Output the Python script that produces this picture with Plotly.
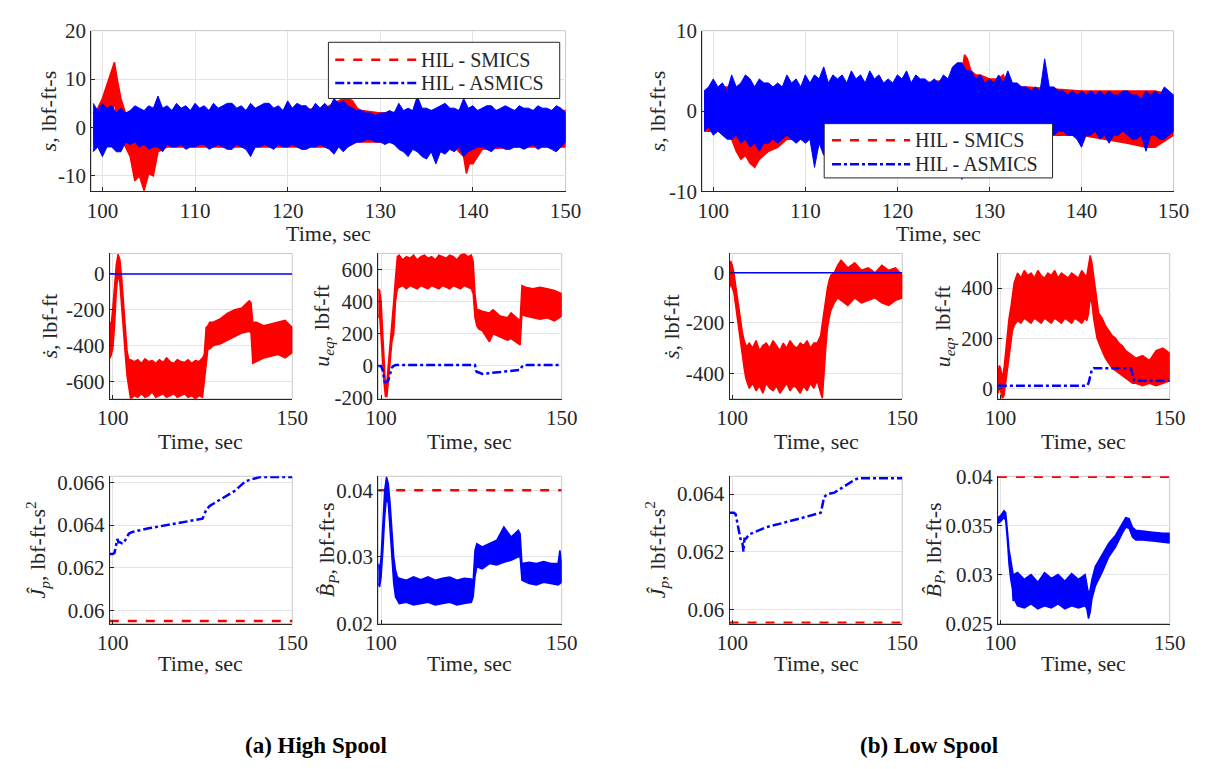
import plotly.graph_objects as go

W, H = 1205, 769
FONT = "'Liberation Serif', 'Times New Roman', Times, serif"
RED = "#ff0000"
BLUE = "#0000ff"
DARK = "#262626"
GRID = "#e3e3e3"

# ---------------- data ----------------
# (a) High Spool: sliding variable s  (noise envelopes)
hs_s_asmics_t = [99, 99.5, 100, 100.5, 101, 101.5, 102, 102.5, 103, 103.5, 104, 104.5, 105, 105.5, 106, 106.5,
                 107, 107.5, 108, 108.5, 109, 109.5, 110, 110.5, 111, 111.5, 112, 112.5, 113, 113.5, 114, 114.5,
                 115, 115.5, 116, 116.5, 117, 117.5, 118, 118.5, 119, 119.5, 120, 120.5, 121, 121.5, 122, 122.5,
                 123, 123.5, 124, 124.5, 125, 125.5, 126, 126.5, 127, 127.5, 128, 128.5, 129, 129.5, 130, 130.5,
                 131, 131.5, 132, 132.5, 133, 133.5, 134, 134.5, 135, 135.5, 136, 136.5, 137, 137.5, 138, 138.5,
                 139, 139.5, 140, 140.5, 141, 141.5, 142, 142.5, 143, 143.5, 144, 144.5, 145, 145.5, 146, 146.5,
                 147, 147.5, 148, 148.5, 149, 149.5, 150]
hs_s_asmics_up = [5, 3.5, 5, 4, 4.5, 3, 4, 3, 3.5, 4.5, 4, 3.5, 4.5, 4, 6.5, 4, 4.5, 3.5, 5, 4,
                  4.5, 3.5, 5, 4, 4.5, 3.5, 5, 4, 4.5, 5, 5, 4, 4.5, 3.5, 5, 4, 4.5, 5, 5, 4,
                  4.5, 3.5, 5.5, 4, 5, 4.5, 4.5, 3.5, 5, 4, 5, 4, 6, 5, 5.5, 4.5, 4, 3.5, 3.5, 3,
                  3, 2.5, 3, 3, 3.5, 3, 5, 3.5, 4, 3.5, 6.5, 4, 4, 3.5, 4, 4.5, 5, 4, 4, 3.5,
                  6, 4, 4.5, 3.5, 4, 4.5, 4.5, 3.5, 4, 4.5, 4, 3.5, 4.5, 4, 4, 3.5, 4.5, 4, 4, 3.5,
                  4.5, 4, 3]
hs_s_asmics_lo = [-5, -4, -6, -4, -4, -5, -5, -3, -3.5, -3, -4, -3.5, -4.5, -4, -4, -5, -3.5, -4, -4, -3.5,
                  -4.5, -4, -4, -3.5, -3.5, -4.5, -4, -3.5, -4, -4.5, -4.5, -3.5, -4, -4.5, -6, -4, -4, -3.5, -4,
                  -4.5, -3.5, -4, -4, -3.5, -4, -4.5, -4.5, -4, -4, -3.5, -4, -4.5, -5.5, -4, -5, -4, -3.5, -3,
                  -3, -2.5, -2.5, -3, -3, -3.5, -3, -3.5, -4.5, -5, -6, -4.5, -5, -6, -6.5, -5, -7.5, -5, -5.5,
                  -4.5, -5, -4, -6, -5, -4.5, -4, -4, -4.5, -5, -4, -4, -4.5, -4.5, -4, -4, -4.5, -4, -3.5, -4.5,
                  -4, -4, -4.5, -5, -4, -3]
hs_s_smics_t = [99, 99.5, 100, 100.5, 101, 101.3, 101.6, 102, 102.5, 103, 103.5, 104, 104.5, 105, 105.5, 106, 107,
                110, 115, 120, 124, 125, 126, 126.5, 127, 127.5, 128, 130, 135, 138, 139, 139.3, 139.6, 140, 141,
                145, 150]
hs_s_smics_up = [3, 4, 6, 9, 12, 13.5, 10, 6, 3, 3, 3, 3, 3, 3, 3, 3, 3.5,
                 3.5, 3.5, 3.5, 4, 5, 6, 6, 5.5, 4, 3.5, 3, 3.5, 3.5, 3.5, 3.5, 3.5, 3.5, 3.5,
                 3.5, 3.5]
hs_s_smics_lo = [-3, -3, -2, 1, 3, 5, 2, -2, -4, -6, -11, -10, -13, -9.5, -10, -5, -4,
                 -4, -4, -4, -4, -4, -3.5, -3, -3, -3, -3, -3, -3.5, -4, -6, -9.5, -7.5, -7.5, -4.5,
                 -4, -4]

# (b) Low Spool: sliding variable s
ls_s_asmics_t = hs_s_asmics_t
ls_s_asmics_up = [2.5, 3, 4, 3, 3.5, 2.5, 4.5, 3, 3.5, 4.5, 4, 3, 4, 3.5, 3.5, 3, 3.5, 3, 4.5, 3.5,
                  4, 3, 4.5, 3.5, 4.5, 4, 5.5, 3.5, 4.5, 4, 4.5, 3.5, 5, 4, 4.5, 3.5, 5, 4, 4.5, 3.5,
                  4, 3.5, 4.5, 4, 5, 3.5, 4.5, 4, 4, 3.5, 4, 3.5, 4.5, 4, 5.5, 6, 6, 5, 5, 4,
                  4.5, 3.5, 4, 3.5, 4.5, 3.5, 5, 3.5, 3.5, 3, 3, 2.5, 3, 2.5, 6.5, 3, 3, 2.5, 2.5, 2,
                  2.5, 2, 2.5, 2, 2.5, 2, 2.5, 2, 2.5, 2, 2, 2.5, 2.5, 2, 2, 1.5, 2.5, 2, 2.5, 2,
                  3, 2.5, 2]
ls_s_asmics_lo = [-2.5, -2, -3, -2.5, -3, -3.5, -3.5, -3, -4, -3.5, -4.5, -4, -5, -4, -4, -3.5, -4, -3.5, -3,
                  -3.5, -4, -3.5, -4, -3.5, -7, -4, -5.5, -4, -4.5, -4, -4, -3.5, -4.5, -4, -4, -3.5, -4, -3.5,
                  -4, -3.5, -4, -3.5, -3.5, -3, -4, -3.5, -4, -3.5, -3.5, -3, -3.5, -3, -4, -3, -3, -3, -8.5, -3,
                  -3.5, -3, -3, -2.5, -3, -2.5, -3, -2.5, -3, -2.5, -3, -3, -3.5, -3, -2.5, -3, -3, -2.5, -3, -2.5,
                  -2.5, -3, -3, -3.5, -4.5, -3, -3, -2.5, -3.5, -3, -4, -3, -3, -2.5, -3, -3.5, -3.5, -3, -5, -3,
                  -3, -3.5, -3.5, -3, -2.5]
ls_s_smics_t = [99, 100, 101, 102, 102.5, 103, 103.5, 104, 104.5, 105, 106, 107, 108, 110, 120, 126, 127, 127.3,
                127.6, 128, 128.5, 129, 130, 131, 131.5, 132, 134, 140, 145, 147, 148, 150]
ls_s_smics_up = [2, 2.5, 3, 3, 3, 3, 3, 3, 3, 3, 3, 3, 3, 3, 3, 4, 5, 7,
                 6.5, 5, 4.5, 4.5, 4, 4, 4.5, 3, 3, 2.5, 2.5, 2.5, 2.5, 2]
ls_s_smics_lo = [-2.5, -2.5, -2.5, -3.5, -5, -6, -5.5, -6.5, -7, -6, -5, -4.5, -3.5, -3.5, -3.5, -3, -3, -3,
                 -3, -3, -3, -3, -3, -3, -3, -3, -3, -3, -4, -4.5, -4.5, -3]

# (a) s-dot
hs_sd_t = [99.2, 99.5, 100, 100.5, 101, 101.5, 102, 102.5, 103, 103.5, 104, 104.5, 105, 106, 107, 108, 109, 110,
           111, 112, 113, 114, 115, 116, 117, 118, 119, 120, 121, 122, 123, 124, 125, 125.5, 126, 126.5, 127, 128,
           130, 132, 134, 136, 138, 138.5, 139, 140, 142, 144, 146, 148, 150]
hs_sd_up = [-270, -300, -200, -50, 50, 110, 80, -20, -150, -300, -430, -480, -480, -490, -480, -500, -475, -490,
            -485, -500, -480, -495, -470, -490, -500, -480, -490, -495, -480, -500, -485, -490, -470, -450, -300,
            -290, -270, -270, -250, -220, -200, -190, -150, -160, -270, -270, -290, -280, -270, -260, -300]
hs_sd_lo = [-470, -460, -420, -300, -100, 0, -50, -150, -300, -450, -570, -620, -700, -680, -690, -670, -690, -680,
            -660, -690, -680, -670, -690, -680, -670, -690, -680, -670, -690, -680, -700, -680, -690, -600, -520,
            -420, -420, -400, -390, -370, -350, -330, -320, -330, -500, -490, -470, -460, -450, -470, -440]
hs_sd_asmics_t = [99.2, 150]
hs_sd_asmics = [0, 0]

# (a) u_eq
hs_ueq_t = [99.2, 99.6, 100, 100.4, 100.8, 101.2, 101.6, 102, 102.5, 103, 103.5, 104, 104.5, 105, 106, 107, 108,
            109, 110, 111, 112, 113, 114, 115, 116, 117, 118, 119, 120, 121, 122, 123, 124, 125, 125.5, 126, 126.5,
            127, 128, 130, 131, 133, 135, 136, 138.5, 139, 140, 142, 144, 146, 148, 150]
hs_ueq_up = [480, 470, 400, 250, 100, -120, -100, 0, 100, 250, 400, 550, 680, 690, 660, 680, 670, 690,
             660, 680, 690, 670, 680, 660, 690, 680, 670, 690, 680, 660, 690, 700, 680, 690, 650, 450, 350,
             350, 340, 330, 350, 310, 300, 330, 280, 500, 490, 480, 490, 480, 470, 450]
hs_ueq_lo = [300, 320, 200, 50, -100, -190, -190, -100, 0, 150, 200, 400, 480, 490, 500, 480, 500, 490,
             480, 500, 490, 480, 500, 490, 480, 500, 490, 480, 500, 490, 480, 500, 490, 480, 450, 300, 250,
             230, 220, 150, 200, 180, 160, 170, 130, 320, 310, 300, 290, 300, 280, 310]
hs_ueq_asmics_t = [99.2, 100, 100.5, 101, 101.5, 102, 102.5, 103, 103.5, 104, 126, 126.3, 126.6, 127, 128, 130,
                   135, 138.5, 139, 139.5, 150]
hs_ueq_asmics = [0, 0, -30, -100, -100, -90, -50, -10, 0, 5, 5, -30, -40, -40, -50, -45,
                 -35, -25, -5, 5, 5]

# (b) s-dot
ls_sd_t = [99.2, 99.6, 100, 100.5, 101, 101.5, 102, 102.5, 103, 103.5, 104, 104.5, 105, 106, 107, 108, 109, 110,
           111, 112, 113, 114, 115, 116, 117, 118, 119, 120, 121, 122, 123, 124, 125, 126, 126.5, 127, 127.5, 128,
           128.5, 129, 130, 131, 132, 134, 136, 138, 140, 142, 144, 146, 148, 150]
ls_sd_up = [40, 45, 30, 0, -50, -100, -150, -200, -240, -270, -290, -290, -280, -300, -270, -310, -290, -280,
            -300, -270, -290, -310, -280, -300, -270, -290, -300, -280, -290, -270, -300, -280, -280, -250, -200,
            -150, -90, -60, -30, -10, 0, 30, 50, 20, 40, 10, 20, 0, 30, 10, 20, -10]
ls_sd_lo = [-60, -40, -60, -80, -120, -180, -230, -290, -330, -380, -420, -440, -460, -440, -470, -450, -480,
            -440, -460, -470, -450, -480, -460, -440, -470, -450, -460, -480, -450, -470, -440, -460, -430, -480,
            -500, -400, -300, -220, -180, -150, -120, -100, -110, -130, -100, -120, -110, -100, -120, -130, -110,
            -100]
ls_sd_asmics_t = [99.2, 150]
ls_sd_asmics = [0, 0]

# (b) u_eq
ls_ueq_t = [99.2, 99.6, 100, 100.5, 101, 101.5, 102, 102.5, 103, 103.5, 104, 104.5, 105, 106, 107, 108, 109, 110,
            111, 112, 113, 114, 115, 116, 117, 118, 119, 120, 121, 122, 123, 124, 125, 125.5, 126, 126.5, 127,
            127.5, 128, 128.5, 129, 130, 131, 132, 133, 134, 135, 136, 137, 138, 139, 140, 142, 144, 146, 148, 150]
ls_ueq_up = [60, 90, 80, 40, 80, 150, 220, 280, 320, 380, 420, 440, 460, 440, 470, 450, 460, 440, 470, 450,
             440, 460, 450, 470, 440, 460, 450, 440, 460, 450, 440, 470, 450, 450, 500, 530, 500, 450, 400, 350,
             300, 280, 250, 230, 210, 200, 180, 170, 150, 140, 130, 120, 130, 110, 150, 160, 140]
ls_ueq_lo = [-20, 0, -10, -40, -30, 20, 60, 120, 180, 230, 250, 260, 270, 260, 280, 270, 260, 280, 270, 260,
             280, 270, 260, 280, 270, 260, 280, 270, 260, 280, 270, 260, 280, 270, 300, 360, 340, 280, 240, 200,
             180, 150, 120, 100, 80, 70, 60, 50, 40, 30, 20, 20, 10, 20, 10, 20, 30]
ls_ueq_asmics_t = [99.2, 125.5, 126, 126.5, 127, 127.5, 138.5, 139, 139.5, 150]
ls_ueq_asmics = [10, 10, 20, 50, 75, 80, 80, 55, 30, 30]

# (a) J_p estimate
hs_jp_t = [99.2, 100, 100.5, 101, 101.3, 101.6, 102, 102.5, 103, 103.5, 104, 104.5, 105, 106, 110, 115, 120, 124.5,
           125, 126, 127, 128, 130, 132, 134, 136, 137, 138, 139, 140, 141, 150]
hs_jp = [0.06265, 0.06265, 0.0627, 0.0631, 0.06335, 0.0632, 0.0632, 0.06315, 0.06315, 0.0633, 0.06345, 0.0636,
         0.06365, 0.0637, 0.06385, 0.064, 0.06415, 0.06425, 0.0643, 0.0647, 0.0649, 0.065, 0.0652, 0.0654, 0.0656,
         0.0659, 0.06605, 0.0661, 0.06615, 0.0662, 0.06625, 0.06625]
hs_jp_smics_t = [99.2, 150]
hs_jp_smics = [0.05952, 0.05952]

# (a) B_P estimate
hs_bp_t = [99.2, 99.6, 100, 100.5, 101, 101.5, 102, 102.5, 103, 103.5, 104, 104.5, 105, 107, 109, 111, 113, 115,
           117, 119, 121, 123, 125, 125.5, 126, 126.5, 128, 130, 132, 134, 136, 138, 138.5, 139, 141, 143, 145,
           147, 149, 149.5, 150]
hs_bp_up = [0.029, 0.028, 0.030, 0.036, 0.040, 0.042, 0.041, 0.038, 0.034, 0.030, 0.028, 0.027, 0.0268, 0.0265,
            0.027, 0.0266, 0.027, 0.0265, 0.0268, 0.027, 0.0265, 0.0268, 0.0267, 0.0265, 0.031, 0.032, 0.0315,
            0.032, 0.0325, 0.0345, 0.033, 0.034, 0.0335, 0.029, 0.0292, 0.029, 0.0293, 0.029, 0.029, 0.031, 0.029]
hs_bp_lo = [0.026, 0.0255, 0.027, 0.031, 0.036, 0.039, 0.038, 0.034, 0.030, 0.026, 0.024, 0.0235, 0.023, 0.0232,
            0.0228, 0.023, 0.0232, 0.0228, 0.023, 0.0232, 0.0228, 0.023, 0.0232, 0.024, 0.027, 0.0285, 0.0282,
            0.029, 0.0288, 0.0292, 0.0295, 0.030, 0.030, 0.0265, 0.026, 0.0258, 0.0262, 0.026, 0.0258, 0.026, 0.0262]
hs_bp_smics_t = [99.2, 150]
hs_bp_smics = [0.04, 0.04]

# (b) J_p estimate
ls_jp_t = [99.2, 100, 100.5, 101, 101.5, 102, 102.5, 103, 103.3, 103.6, 104, 105, 107, 110, 115, 120, 125, 126,
           126.5, 127, 128, 130, 132, 134, 135, 136, 137, 150]
ls_jp = [0.06335, 0.06335, 0.06335, 0.0633, 0.0630, 0.0627, 0.0624, 0.0623, 0.0620, 0.06245, 0.06245, 0.0626,
         0.0627, 0.06285, 0.0630, 0.06315, 0.0633, 0.06335, 0.0636, 0.0639, 0.0640, 0.06405, 0.0642, 0.06435,
         0.06445, 0.0645, 0.06455, 0.06455]
ls_jp_smics_t = [99.2, 150]
ls_jp_smics = [0.05953, 0.05953]

# (b) B_P estimate
ls_bp_t = [99.2, 100, 101, 101.5, 102, 102.5, 103, 103.5, 103.7, 104, 105, 107, 109, 111, 113, 115, 117, 119, 121,
           123, 125, 125.5, 126, 126.5, 127, 128, 130, 132, 134, 136, 137, 138, 139, 140, 142, 145, 148, 150]
ls_bp_up = [0.0358, 0.0360, 0.0365, 0.0363, 0.0345, 0.0325, 0.0315, 0.0305, 0.0300, 0.0300, 0.0302, 0.0295,
            0.0300, 0.0292, 0.0302, 0.0296, 0.0300, 0.0293, 0.0301, 0.0295, 0.0300, 0.0290, 0.0280, 0.0285,
            0.0295, 0.0308, 0.0320, 0.0332, 0.0340, 0.0352, 0.0358, 0.0357, 0.0348, 0.0345, 0.0344, 0.0343,
            0.0342, 0.0342]
ls_bp_lo = [0.0352, 0.0354, 0.0358, 0.0355, 0.0335, 0.0310, 0.0295, 0.0285, 0.0273, 0.0275, 0.0268, 0.0266,
            0.0270, 0.0265, 0.0268, 0.0266, 0.0270, 0.0265, 0.0268, 0.0266, 0.0268, 0.0265, 0.0255, 0.0262,
            0.0275, 0.0288, 0.0302, 0.0318, 0.0328, 0.0342, 0.0348, 0.0347, 0.0338, 0.0335, 0.0335, 0.0334,
            0.0333, 0.0332]
ls_bp_smics_t = [99.2, 150]
ls_bp_smics = [0.03995, 0.03995]

# tick labels
top_xticks = [100, 110, 120, 130, 140, 150]
small_xticks = [100, 150]
hs_s_yt = [-10, 0, 10, 20]
ls_s_yt = [-10, 0, 10]
hs_sd_yt = [-600, -400, -200, 0]
hs_ueq_yt = [-200, 0, 200, 400, 600]
ls_sd_yt = [-400, -200, 0]
ls_ueq_yt = [0, 200, 400]
hs_jp_yt = [0.06, 0.062, 0.064, 0.066]
hs_jp_yl = ["0.06", "0.062", "0.064", "0.066"]
hs_bp_yt = [0.02, 0.03, 0.04]
hs_bp_yl = ["0.02", "0.03", "0.04"]
ls_jp_yt = [0.06, 0.062, 0.064]
ls_jp_yl = ["0.06", "0.062", "0.064"]
ls_bp_yt = [0.025, 0.03, 0.035, 0.04]
ls_bp_yl = ["0.025", "0.03", "0.035", "0.04"]

# ---------------- figure ----------------
fig = go.Figure()


def X(px):
    return px / W


def Y(py):
    return 1 - py / H


def band(t, up, lo, color, n, w=1.5):
    fig.add_trace(go.Scatter(x=list(t) + list(t)[::-1], y=list(up) + list(lo)[::-1], mode="lines",
                             fill="toself", fillcolor=color, line=dict(color=color, width=w),
                             xaxis="x" + ("" if n == 1 else str(n)), yaxis="y" + ("" if n == 1 else str(n)),
                             showlegend=False, hoverinfo="skip"))


def line(t, v, color, dash, width, n):
    fig.add_trace(go.Scatter(x=t, y=v, mode="lines", line=dict(color=color, dash=dash, width=width),
                             xaxis="x" + ("" if n == 1 else str(n)), yaxis="y" + ("" if n == 1 else str(n)),
                             showlegend=False, hoverinfo="skip"))


# 1: (a) s
band(hs_s_smics_t, hs_s_smics_up, hs_s_smics_lo, RED, 1)
band(hs_s_asmics_t, hs_s_asmics_up, hs_s_asmics_lo, BLUE, 1, 1)
# 2: (a) s-dot
band(hs_sd_t, hs_sd_up, hs_sd_lo, RED, 2)
line(hs_sd_asmics_t, hs_sd_asmics, BLUE, "solid", 1.5, 2)
# 3: (a) u_eq
band(hs_ueq_t, hs_ueq_up, hs_ueq_lo, RED, 3)
line(hs_ueq_asmics_t, hs_ueq_asmics, BLUE, "dashdot", 2.5, 3)
# 4: (a) Jp
line(hs_jp_smics_t, hs_jp_smics, RED, "dash", 2.5, 4)
line(hs_jp_t, hs_jp, BLUE, "dashdot", 2.5, 4)
# 5: (a) Bp
line(hs_bp_smics_t, hs_bp_smics, RED, "dash", 2.5, 5)
band(hs_bp_t, hs_bp_up, hs_bp_lo, BLUE, 5)
# 6: (b) s
band(ls_s_smics_t, ls_s_smics_up, ls_s_smics_lo, RED, 6)
band(ls_s_asmics_t, ls_s_asmics_up, ls_s_asmics_lo, BLUE, 6, 1)
# 7: (b) s-dot
band(ls_sd_t, ls_sd_up, ls_sd_lo, RED, 7)
line(ls_sd_asmics_t, ls_sd_asmics, BLUE, "solid", 1.5, 7)
# 8: (b) u_eq
band(ls_ueq_t, ls_ueq_up, ls_ueq_lo, RED, 8)
line(ls_ueq_asmics_t, ls_ueq_asmics, BLUE, "dashdot", 2.5, 8)
# 9: (b) Jp
line(ls_jp_smics_t, ls_jp_smics, RED, "dash", 2.5, 9)
line(ls_jp_t, ls_jp, BLUE, "dashdot", 2.5, 9)
# 10: (b) Bp
line(ls_bp_smics_t, ls_bp_smics, RED, "dash", 2.5, 10)
band(ls_bp_t, ls_bp_up, ls_bp_lo, BLUE, 10)

# axes geometry (pixels): x0, x1, ytop, ybottom, xrange, yrange, xticks, yticks, yticklabels
axes = {
    1: (72, 558, 11, 177, [98.8, 150], [-13.2, 20], top_xticks, hs_s_yt, [str(v) for v in hs_s_yt]),
    2: (91, 278, 241, 391, [99.2, 150], [-698, 114], small_xticks, hs_sd_yt, [str(v) for v in hs_sd_yt]),
    3: (366, 554, 241, 391, [99.2, 150], [-205, 700], small_xticks, hs_ueq_yt, [str(v) for v in hs_ueq_yt]),
    4: (91, 278, 471, 623, [99.2, 150], [0.0594, 0.06628], small_xticks, hs_jp_yt, hs_jp_yl),
    5: (366, 554, 471, 623, [99.2, 150], [0.02, 0.0421], small_xticks, hs_bp_yt, hs_bp_yl),
    6: (698, 1181, 11, 177, [98.8, 150], [-10, 10], top_xticks, ls_s_yt, [str(v) for v in ls_s_yt]),
    7: (726, 903, 241, 391, [99.2, 150], [-502, 77], small_xticks, ls_sd_yt, [str(v) for v in ls_sd_yt]),
    8: (1001, 1177, 241, 391, [99.2, 150], [-42, 538], small_xticks, ls_ueq_yt, [str(v) for v in ls_ueq_yt]),
    9: (726, 903, 471, 623, [99.2, 150], [0.0595, 0.06462], small_xticks, ls_jp_yt, ls_jp_yl),
    10: (1001, 1177, 471, 623, [99.2, 150], [0.025, 0.04], small_xticks, ls_bp_yt, ls_bp_yl),
}

tickfont = dict(family=FONT, size=21, color=DARK)
layout = dict(width=W, height=H, margin=dict(l=0, r=0, t=0, b=0), paper_bgcolor="white",
              plot_bgcolor="white", showlegend=False, font=dict(family=FONT, size=21, color=DARK))
shapes = []
for n, (x0, x1, yt, yb, xr, yr, xt, ytv, ytl) in axes.items():
    s = "" if n == 1 else str(n)
    layout["xaxis" + s] = dict(domain=[X(x0), X(x1)], range=xr, anchor="y" + s, tickvals=xt,
                               ticktext=[str(v) for v in xt], showgrid=True, gridcolor=GRID, gridwidth=1,
                               showline=True, linecolor=DARK, linewidth=1, ticks="inside", ticklen=4,
                               tickcolor=DARK, tickfont=tickfont, zeroline=False, fixedrange=True)
    layout["yaxis" + s] = dict(domain=[Y(yb), Y(yt)], range=yr, anchor="x" + s, tickvals=ytv, ticktext=ytl,
                               showgrid=True, gridcolor=GRID, gridwidth=1, showline=True, linecolor=DARK,
                               linewidth=1, ticks="inside", ticklen=4, tickcolor=DARK, tickfont=tickfont,
                               zeroline=False, fixedrange=True)
    shapes.append(dict(type="rect", xref="x" + s + " domain", yref="y" + s + " domain", x0=0, x1=1, y0=0, y1=1,
                       line=dict(color="#c8c8c8", width=1), layer="below"))

annotations = []
labfont = dict(family=FONT, size=22, color=DARK)


def ann(text, x, y, angle=0, font=labfont, xanchor="center"):
    annotations.append(dict(text=text, x=X(x), y=Y(y), xref="paper", yref="paper", showarrow=False,
                            textangle=angle, font=font, xanchor=xanchor, yanchor="middle"))


# x titles
for (xc, yc) in [(315, 220), (940, 220), (184, 435), (460, 435), (815, 435), (1089, 435),
                 (184, 664), (460, 664), (815, 664), (1089, 664)]:
    ann("Time, sec", xc, yc)

# y titles
ann("<i>s</i>, lbf-ft-s", 28, 94, -90)
ann("<i>s</i>, lbf-ft-s", 652, 94, -90)
ann("<i>ṡ</i>, lbf-ft", 29, 316, -90)
ann("<i>ṡ</i>, lbf-ft", 666, 316, -90)
ann("<i>u</i><sub><i>eq</i></sub>, lbf-ft", 310, 316, -90)
ann("<i>u</i><sub><i>eq</i></sub>, lbf-ft", 946, 316, -90)
ann("<i>Ĵ</i><sub><i>p</i></sub>, lbf-ft-s<sup>2</sup>", 17, 547, -90)
ann("<i>Ĵ</i><sub><i>p</i></sub>, lbf-ft-s<sup>2</sup>", 652, 547, -90)
ann("<i>B̂</i><sub><i>P</i></sub>, lbf-ft-s", 315, 547, -90)
ann("<i>B̂</i><sub><i>P</i></sub>, lbf-ft-s", 936, 547, -90)

# legends (drawn boxes)
legfont = dict(family=FONT, size=20, color=DARK)
for (bx0, bx1, by0, by1, l0, l1, tx, r_y, b_y) in [(315, 552, 23, 81, 322, 405, 408, 41, 65),
                                                    (823, 1057, 107, 163, 831, 911, 914, 124, 149)]:
    shapes.append(dict(type="rect", xref="paper", yref="paper", x0=X(bx0), x1=X(bx1), y0=Y(by1), y1=Y(by0),
                       fillcolor="white", line=dict(color=DARK, width=1), layer="above"))
    shapes.append(dict(type="line", xref="paper", yref="paper", x0=X(l0), x1=X(l1), y0=Y(r_y), y1=Y(r_y),
                       line=dict(color=RED, width=2.5, dash="dash"), layer="above"))
    shapes.append(dict(type="line", xref="paper", yref="paper", x0=X(l0), x1=X(l1), y0=Y(b_y), y1=Y(b_y),
                       line=dict(color=BLUE, width=2.5, dash="dashdot"), layer="above"))
    ann("HIL - SMICS", tx, r_y, font=legfont, xanchor="left")
    ann("HIL - ASMICS", tx, b_y, font=legfont, xanchor="left")

# captions
capfont = dict(family=FONT, size=23, color="black")
ann("<b>(a) High Spool</b>", 302, 749, font=capfont)
ann("<b>(b) Low Spool</b>", 930, 749, font=capfont)

layout["shapes"] = shapes
layout["annotations"] = annotations
fig.update_layout(**layout)
fig.write_html("out.html")
